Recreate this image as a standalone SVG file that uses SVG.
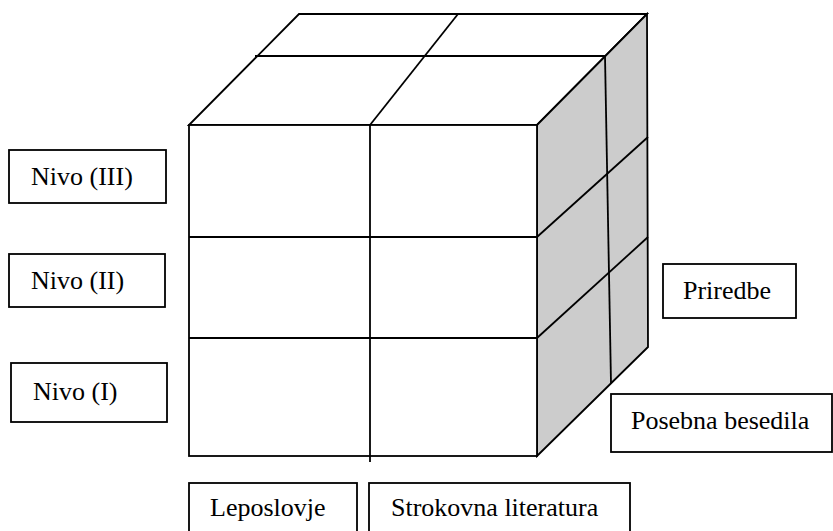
<svg xmlns="http://www.w3.org/2000/svg" width="833" height="531" viewBox="0 0 833 531">
  <style>
    .ln { stroke: #000; stroke-width: 1.8; fill: none; stroke-linejoin: miter; }
    .box { stroke: #000; stroke-width: 1.8; fill: #fff; }
    .side { stroke: #000; stroke-width: 1.8; fill: #cccccc; }
    .face { stroke: #000; stroke-width: 1.8; fill: #fff; }
    .lbl { font-family: "Liberation Serif", "Times New Roman", serif; font-size: 26px; fill: #000; }
  </style>
  <rect x="0" y="0" width="833" height="531" fill="#fff"/>

  <g id="cube">
    <polygon class="face" points="189,125 299,14 647,14 537,125"/>
    <polygon class="side" points="537,125 647,14 648,347 537,456"/>
    <rect class="face" x="189" y="125" width="348" height="331"/>
    <line class="ln" x1="370" y1="125" x2="370" y2="462"/>
    <line class="ln" x1="189" y1="237" x2="537" y2="237"/>
    <line class="ln" x1="189" y1="338" x2="537" y2="338"/>
    <line class="ln" x1="255" y1="56" x2="605" y2="56"/>
    <line class="ln" x1="370" y1="125" x2="458" y2="14"/>
    <line class="ln" x1="605" y1="56" x2="611" y2="383"/>
    <line class="ln" x1="537" y1="237" x2="648" y2="137"/>
    <line class="ln" x1="537" y1="338" x2="648" y2="237"/>
  </g>

  <g id="nivo3">
    <rect class="box" x="9" y="150" width="157" height="53"/>
    <text class="lbl" x="31" y="185">Nivo (III)</text>
  </g>
  <g id="nivo2">
    <rect class="box" x="9" y="254" width="156" height="53"/>
    <text class="lbl" x="31" y="289">Nivo (II)</text>
  </g>
  <g id="nivo1">
    <rect class="box" x="11" y="363" width="156" height="59"/>
    <text class="lbl" x="33" y="400">Nivo (I)</text>
  </g>
  <g id="priredbe">
    <rect class="box" x="663" y="264" width="133" height="54"/>
    <text class="lbl" x="683" y="299">Priredbe</text>
  </g>
  <g id="posebna">
    <rect class="box" x="611" y="394" width="221" height="58"/>
    <text class="lbl" x="631" y="429">Posebna besedila</text>
  </g>
  <g id="leposlovje">
    <rect class="box" x="189" y="483" width="168" height="60"/>
    <text class="lbl" x="210" y="516">Leposlovje</text>
  </g>
  <g id="strokovna">
    <rect class="box" x="369" y="483" width="261" height="60"/>
    <text class="lbl" x="391" y="516">Strokovna literatura</text>
  </g>
</svg>
